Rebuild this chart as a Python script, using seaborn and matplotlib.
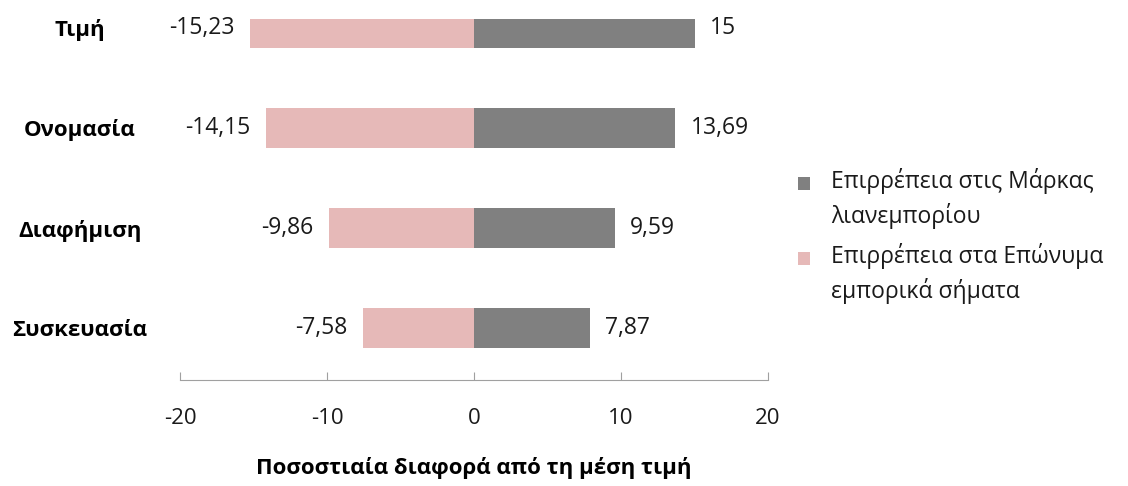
import pandas as pd
import numpy as np
import matplotlib
matplotlib.use('Agg')
import matplotlib.pyplot as plt
from matplotlib.patches import Rectangle
from matplotlib.legend_handler import HandlerPatch
import seaborn as sns

# δεδομένα
categories = ['Τιμή', 'Ονομασία', 'Διαφήμιση', 'Συσκευασία']
retail = [15, 13.69, 9.59, 7.87]           # Επιρρέπεια στις Μάρκες λιανεμπορίου
branded = [-15.23, -14.15, -9.86, -7.58]   # Επιρρέπεια στα Επώνυμα εμπορικά σήματα
series_names = ['Επιρρέπεια στις Μάρκας\nλιανεμπορίου',
                'Επιρρέπεια στα Επώνυμα\nεμπορικά σήματα']
colors = ['#808080', '#E6B9B8']

df = pd.DataFrame({
    'cat': categories * 2,
    'value': retail + branded,
    'series': [series_names[0]] * 4 + [series_names[1]] * 4,
})

sns.set_style('white')
plt.rcParams['font.family'] = ['Open Sans', 'DejaVu Sans']
plt.rcParams['axes.unicode_minus'] = False

fig = plt.figure(figsize=(11.28, 4.86), dpi=100)
ax = fig.add_axes([180 / 1128, 1 - 380 / 486, 588 / 1128, 361 / 486])

sns.barplot(data=df, y='cat', x='value', hue='series', dodge=False,
            palette=colors, width=0.4, orient='h', ax=ax, saturation=1,
            linewidth=0)

# ετικέτες τιμών
for cont in ax.containers:
    for bar in cont:
        v = bar.get_width()
        yc = bar.get_y() + bar.get_height() / 2
        txt = f'{v:g}'.replace('.', ',')
        if v >= 0:
            ax.annotate(txt, (v, yc), xytext=(11, 0), textcoords='offset points',
                        ha='left', va='center', fontsize=16.5, color='#1a1a1a')
        else:
            ax.annotate(txt, (v, yc), xytext=(-11, 0), textcoords='offset points',
                        ha='right', va='center', fontsize=16.5, color='#1a1a1a')

ax.set_xlim(-20, 20)
ax.set_ylim(3.52, -0.09)
ax.set_xticks([-20, -10, 0, 10, 20])
ax.tick_params(axis='x', direction='in', length=6, color='#A0A0A0',
               labelsize=16, pad=20, bottom=True, labelcolor='#1a1a1a')
ax.tick_params(axis='y', length=0, pad=72, labelsize=16, labelcolor='#000000')
for lab in ax.get_yticklabels():
    lab.set_horizontalalignment('center')
    lab.set_fontweight('bold')

for s in ['top', 'right', 'left']:
    ax.spines[s].set_visible(False)
ax.spines['bottom'].set_color('#A0A0A0')

ax.set_ylabel('')
ax.set_xlabel('Ποσοστιαία διαφορά από τη μέση τιμή', fontsize=16,
              fontweight='bold', labelpad=20, color='#000000')


# τετράγωνο υπομνήματος στην πρώτη γραμμή του κειμένου
def square_top(legend, orig_handle, xdescent, ydescent, width, height, fontsize):
    s = width
    return Rectangle((-xdescent, -ydescent + height - s + 0.05 * fontsize), s, s)


handles, labels = ax.get_legend_handles_labels()
leg = ax.legend(handles, labels, loc='center left', bbox_to_anchor=(777 / 1128, 1 - 236 / 486),
                bbox_transform=fig.transFigure, frameon=False, fontsize=16.5,
                handlelength=0.55, handleheight=2.6, handletextpad=0.9, labelspacing=0.6,
                handler_map={Rectangle: HandlerPatch(patch_func=square_top)})
for t in leg.get_texts():
    t.set_linespacing(1.45)
    t.set_color('#1a1a1a')

fig.savefig('out.png', dpi=100)
